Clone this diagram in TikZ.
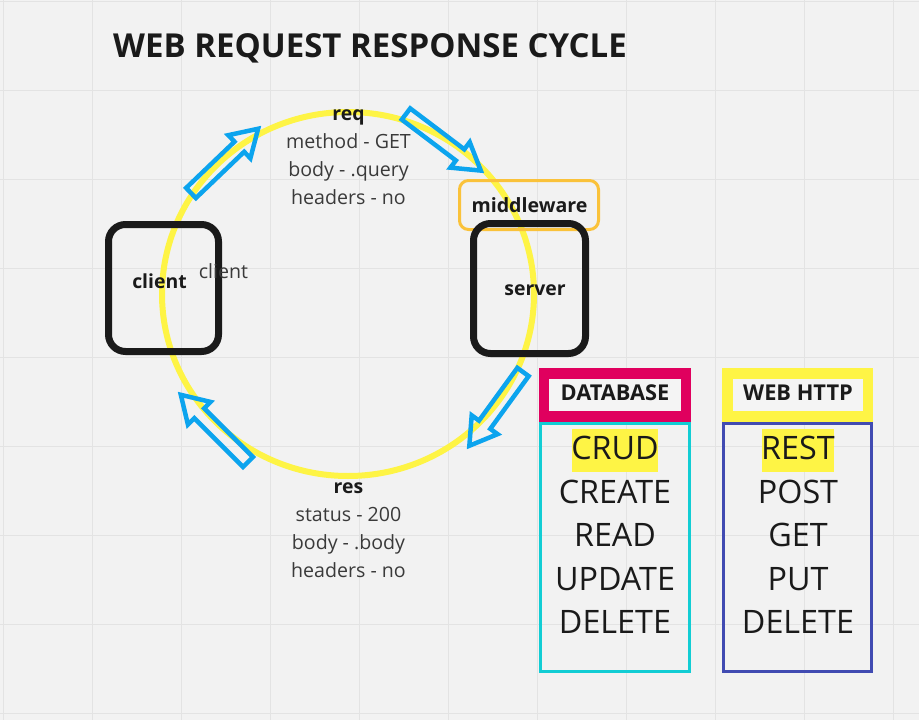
\documentclass[tikz,border=0pt]{standalone}
\usepackage{fontspec}
\setmainfont{Open Sans}
\usetikzlibrary{calc}
\definecolor{bg}{HTML}{F2F2F2}
\definecolor{gridc}{HTML}{E3E3E3}
\definecolor{ink}{HTML}{1A1A1A}
\definecolor{txt}{HTML}{3A3A3A}
\definecolor{ring}{HTML}{FEF445}
\definecolor{arr}{HTML}{0CA4EE}
\definecolor{mwc}{HTML}{FAC23A}
\definecolor{mag}{HTML}{E0005E}
\definecolor{cyanb}{HTML}{12CDD4}
\definecolor{indig}{HTML}{414BB2}
\definecolor{inner}{HTML}{F4F4F4}
\newcommand\hollowarrow[2]{%
  \draw[arrline]
    ($(#1)!7pt!90:(#2)$) --
    ($(#2)!30pt!(#1)!7pt!90:(#2)$) --
    ($(#2)!30pt!(#1)!16pt!90:(#2)$) --
    ($(#2)!4pt!(#1)$) --
    ($(#2)!30pt!(#1)!16pt!-90:(#2)$) --
    ($(#2)!30pt!(#1)!7pt!-90:(#2)$) --
    ($(#1)!7pt!-90:(#2)$) -- cycle;}
\begin{document}
\begin{tikzpicture}[x=1pt,y=-1pt,
  gridline/.style={draw=gridc,line width=1pt},
  boxline/.style={draw=ink,line width=7pt,rounded corners=17pt},
  mwbox/.style={draw=mwc,line width=3pt,rounded corners=9pt},
  arrline/.style={draw=arr,line width=4.5pt,line join=miter},
  lbl/.style={anchor=base,inner sep=0pt,text=txt,font=\fontsize{19.6}{21}\selectfont},
  blbl/.style={anchor=base,inner sep=0pt,text=ink,font=\fontsize{19.4}{21}\selectfont\bfseries},
  hdr/.style={anchor=base,inner sep=0pt,text=ink,font=\fontsize{21.8}{24}\selectfont\bfseries},
  item/.style={anchor=base,inner sep=0pt,text=ink,font=\fontsize{32.3}{35}\selectfont},
]
\fill[bg] (0,0) rectangle (919,720);
\useasboundingbox (0,0) rectangle (919,720);
\foreach \gx in {3,92,...,893} \draw[gridline] (\gx,0) -- (\gx,720);
\foreach \gy in {1,90,...,713} \draw[gridline] (0,\gy) -- (919,\gy);

% title
\node[anchor=base west,inner sep=0pt,text=ink,font=\fontsize{33}{37}\selectfont\bfseries] (title) at (113,57) {WEB REQUEST RESPONSE CYCLE};

% cycle ring
\draw[draw=ring,line width=6pt] (348,294) ellipse [x radius=186pt, y radius=182pt];

% boxes
\draw[mwbox] (459.5,180.5) rectangle (598.5,229.5);
\draw[boxline] (108.5,224.5) rectangle (218.5,351.5);
\draw[boxline] (473.5,223.5) rectangle (585.5,353.5);
\node[blbl] (clientlbl) at (159.5,288) {client};
\node[lbl] (clientnote) at (223.5,278) {client};
\node[blbl] (serverlbl) at (535,295) {server};
\node[blbl,font=\fontsize{19.6}{21}\selectfont\bfseries] (mwlbl) at (529.5,212) {middleware};

% req / res texts
\node[blbl] (req) at (348.5,120) {req};
\node[lbl] (reqa) at (348.5,148) {method - GET};
\node[lbl] (reqb) at (348.5,176) {body - .query};
\node[lbl] (reqc) at (348.5,204) {headers - no};
\node[blbl] (res) at (348.5,493) {res};
\node[lbl] (resa) at (348.5,521) {status - 200};
\node[lbl] (resb) at (348.5,549) {body - .body};
\node[lbl] (resc) at (348.5,577) {headers - no};

% arrows
\coordinate (a1t) at (191,193);
\coordinate (a1h) at (261,126);
\coordinate (a2t) at (406,114);
\coordinate (a2h) at (484,173);
\coordinate (a3t) at (523,372);
\coordinate (a3h) at (467,449);
\coordinate (a4t) at (248,462);
\coordinate (a4h) at (178,392);
\hollowarrow{a1t}{a1h}
\hollowarrow{a2t}{a2h}
\hollowarrow{a3t}{a3h}
\hollowarrow{a4t}{a4h}

% DATABASE table
\fill[mag] (539,368) rectangle (691,422);
\fill[inner] (549,379) rectangle (681,411);
\node[hdr] (dbh) at (615,400) {DATABASE};
\draw[draw=cyanb,line width=3pt] (540.5,423.5) rectangle (689.5,671.5);
\fill[ring] (572,429) rectangle (658,472);
\node[item] (crud) at (615,459) {CRUD};
\node[item] (create) at (615,503) {CREATE};
\node[item] (read) at (615,546) {READ};
\node[item] (update) at (615,590) {UPDATE};
\node[item] (delete1) at (615,633) {DELETE};

% WEB HTTP table
\fill[ring] (722,368) rectangle (873,422);
\fill[inner] (733,379) rectangle (863,411);
\node[hdr] (webh) at (798,400) {WEB HTTP};
\draw[draw=indig,line width=3pt] (723.5,423.5) rectangle (871.5,671.5);
\fill[ring] (762,429) rectangle (834,472);
\node[item] (rest) at (798,459) {REST};
\node[item] (post) at (798,503) {POST};
\node[item] (get) at (798,546) {GET};
\node[item] (put) at (798,590) {PUT};
\node[item] (delete2) at (798,633) {DELETE};
\end{tikzpicture}
\end{document}
